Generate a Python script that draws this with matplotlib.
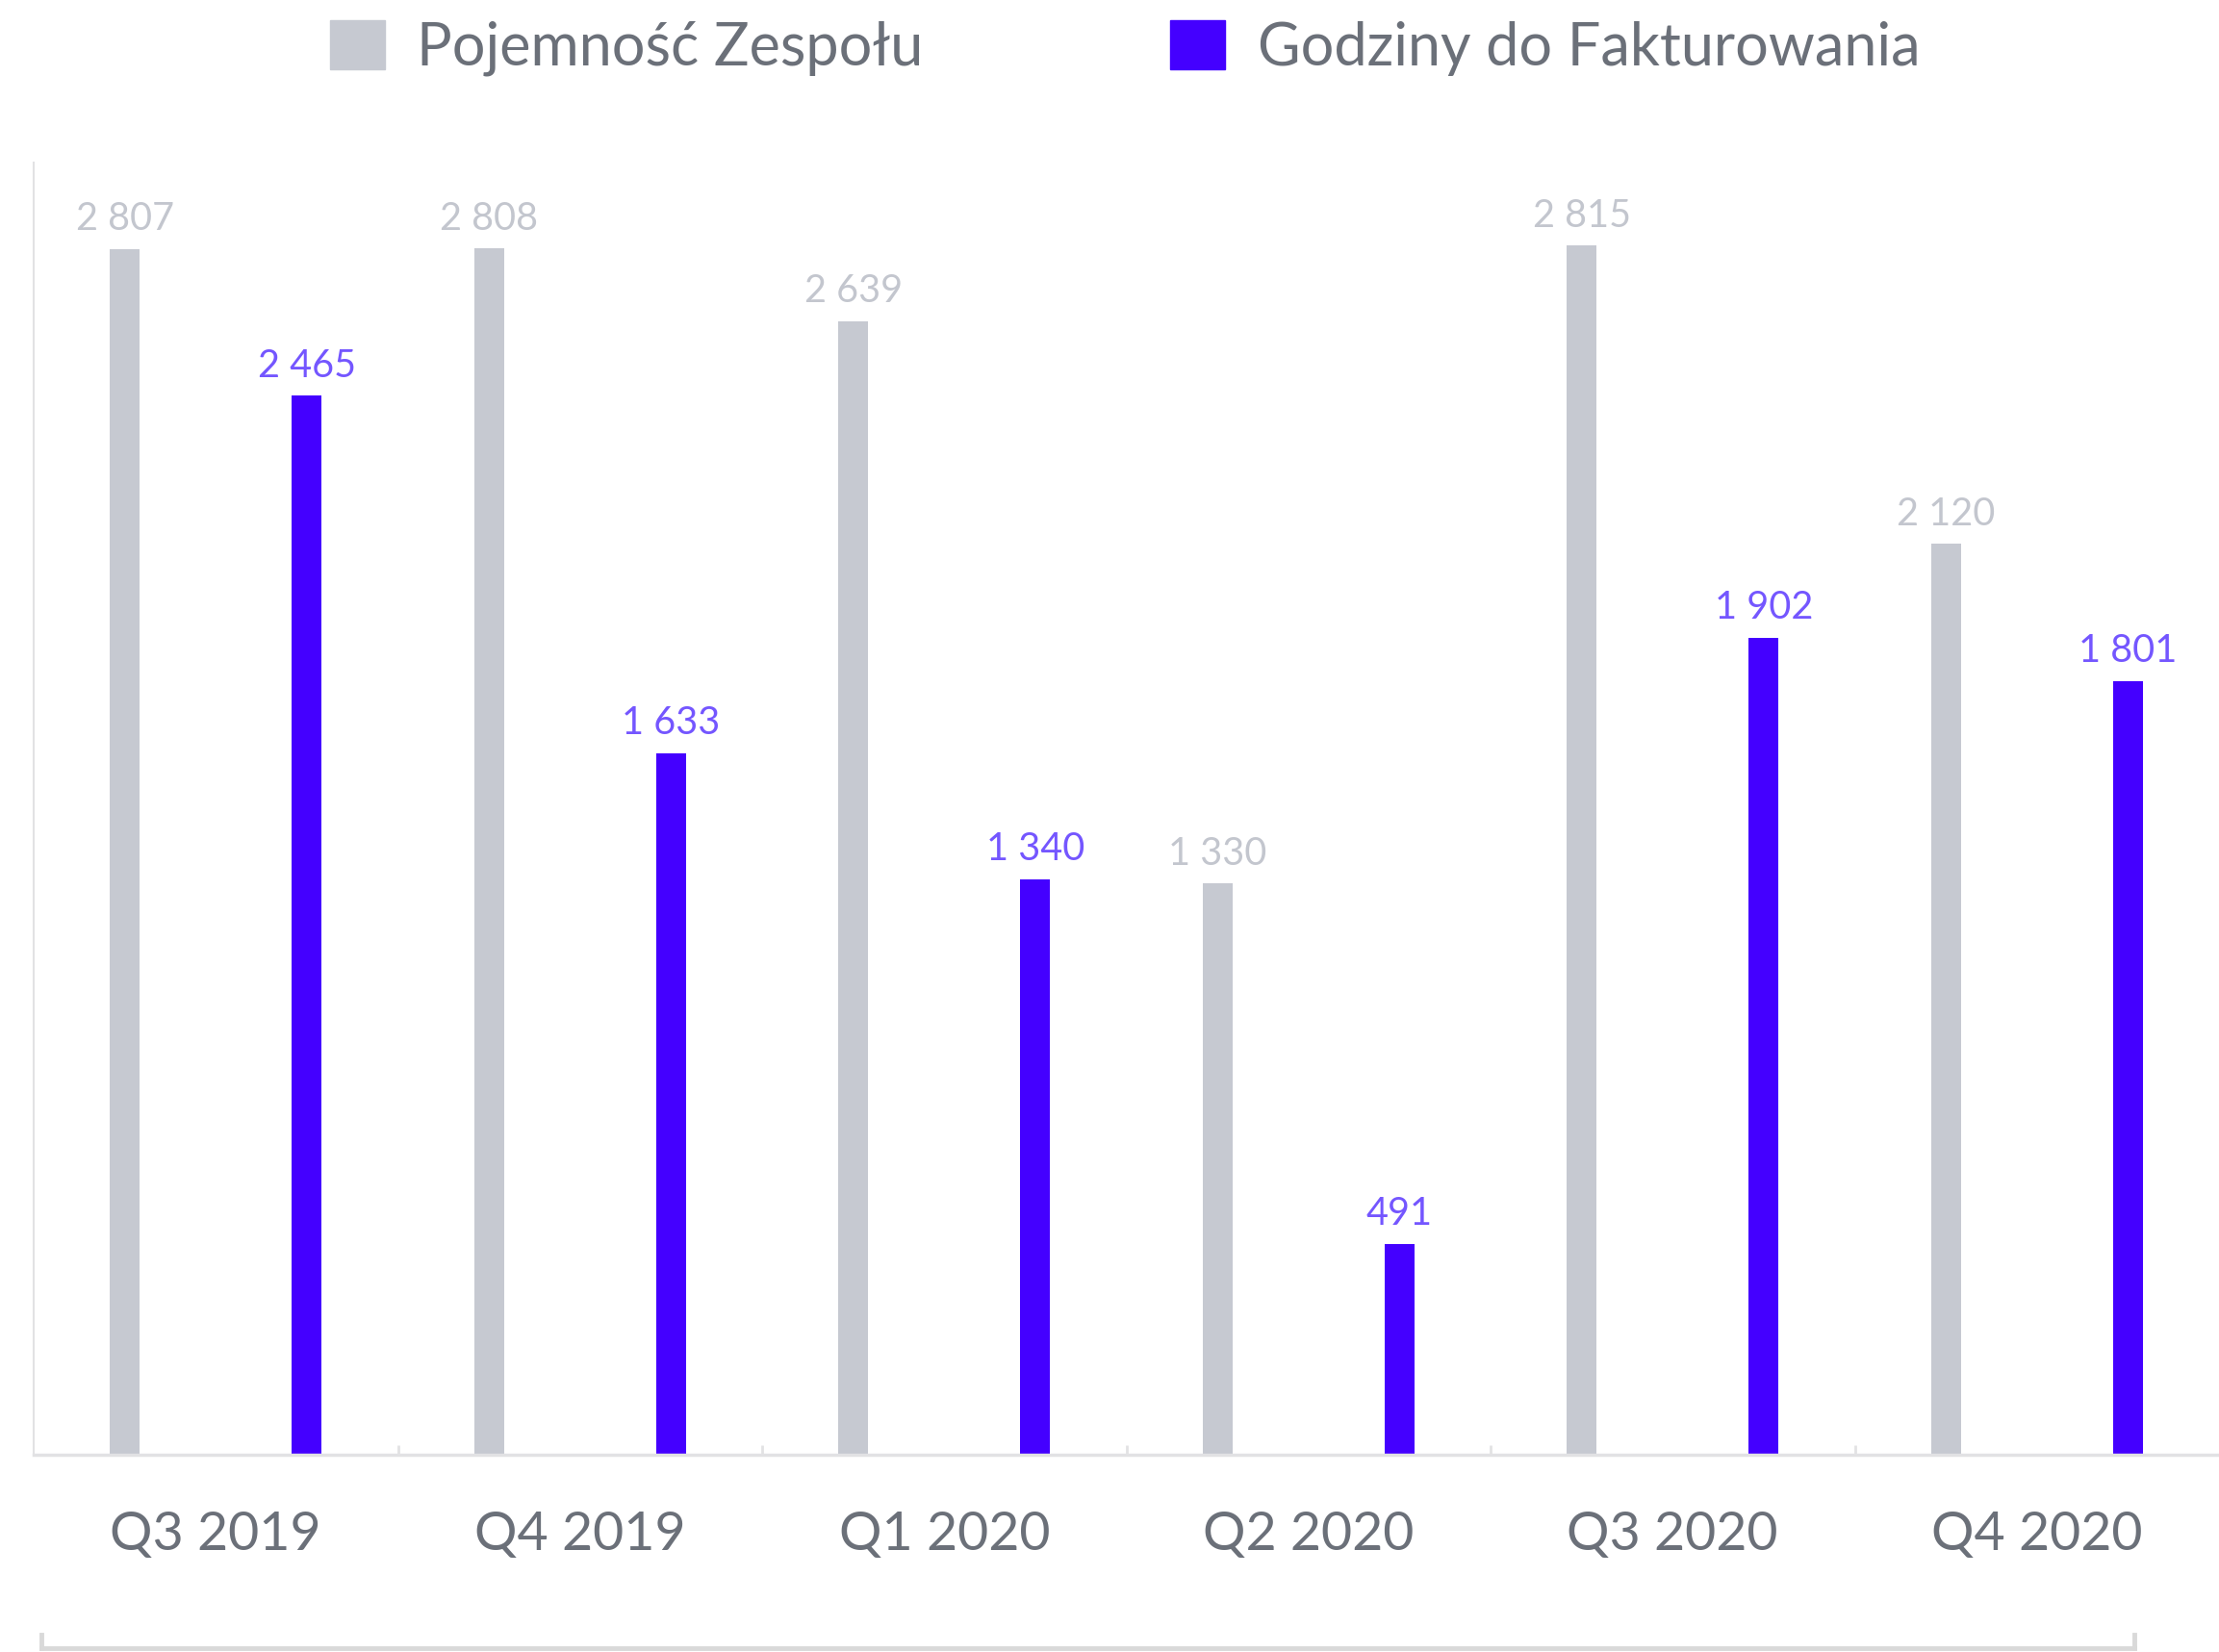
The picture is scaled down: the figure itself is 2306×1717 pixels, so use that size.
import matplotlib.pyplot as plt
import matplotlib.patches as mpatches
import numpy as np

quarters = ["Q3 2019", "Q4 2019", "Q1 2020", "Q2 2020", "Q3 2020", "Q4 2020"]
capacity = [2807, 2808, 2639, 1330, 2815, 2120]
billable = [2465, 1633, 1340, 491, 1902, 1801]
series_names = ["Pojemność Zespołu", "Godziny do Fakturowania"]

GRAY = "#C6C9D1"
PURPLE = "#4400FF"
GRAY_TXT = "#C3C6CE"
PURPLE_TXT = "#7456FF"
TEXT = "#6B7079"
LINE = "#E2E2E4"

plt.rcParams['font.family'] = ['Lato', 'DejaVu Sans']

fig = plt.figure(figsize=(23.06, 17.17), dpi=100)
ax = fig.add_axes([35 / 2306, 1 - 1512 / 1717, 1 - 35 / 2306, (1512 - 169) / 1717])

x = np.arange(len(quarters))
w = 0.082
b1 = ax.bar(x - 0.25, capacity, w, color=GRAY)
b2 = ax.bar(x + 0.25, billable, w, color=PURPLE)


def fmt(v):
    return "{:,}".format(v).replace(",", " ")


for rect, v in zip(b1, capacity):
    ax.annotate(fmt(v), (rect.get_x() + rect.get_width() / 2, v), xytext=(0, 9),
                textcoords="offset points", ha="center", va="bottom",
                fontsize=28.5, color=GRAY_TXT)
for rect, v in zip(b2, billable):
    ax.annotate(fmt(v), (rect.get_x() + rect.get_width() / 2, v), xytext=(0, 9),
                textcoords="offset points", ha="center", va="bottom",
                fontsize=28.5, color=PURPLE_TXT)

ax.set_xlim(-0.5, 5.5)
ax.set_ylim(0, 3008)

# labels on the group centres, small ticks between the groups
ax.set_xticks(x)
ax.set_xticklabels(quarters, fontsize=40, color=TEXT)
ax.tick_params(axis="x", which="major", length=0, pad=42)
ax.set_xticks(x[:-1] + 0.5, minor=True)
ax.tick_params(axis="x", which="minor", direction="in", length=7, width=2, color=LINE)
ax.set_yticks([])

for s in ["top", "right"]:
    ax.spines[s].set_visible(False)
ax.spines["bottom"].set_color(LINE)
ax.spines["bottom"].set_linewidth(2.5)
ax.spines["left"].set_color(LINE)
ax.spines["left"].set_linewidth(1.5)

handles = [mpatches.Patch(color=GRAY, label=series_names[0]),
           mpatches.Patch(color=PURPLE, label=series_names[1])]
leg = fig.legend(handles=handles, loc="center", bbox_to_anchor=(0.507, 0.971), ncol=2,
                 frameon=False, fontsize=44, handlelength=0.93, handleheight=0.93,
                 handletextpad=0.55, columnspacing=4.2, borderaxespad=0)
for t in leg.get_texts():
    t.set_color(TEXT)

# bracket under the x axis
fy = 1 - 1713 / 1717
x0, x1 = 43 / 2306, 2218 / 2306
fig.add_artist(plt.Line2D([x0, x1], [fy, fy], color="#D9D9D9", lw=3.5, transform=fig.transFigure))
for xx in (x0, x1):
    fig.add_artist(plt.Line2D([xx, xx], [fy, fy + 14 / 1717], color="#D9D9D9", lw=3.5,
                              transform=fig.transFigure))

fig.savefig("out.png", dpi=100)
